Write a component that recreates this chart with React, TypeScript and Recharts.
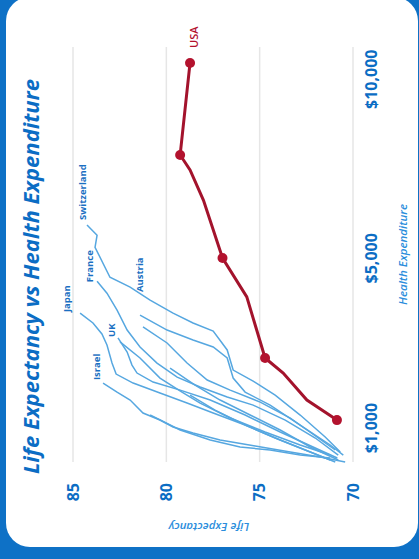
import React from 'react';
import { LineChart, Line, XAxis, YAxis, CartesianGrid, Label } from 'recharts';

// ---- data (health expenditure per capita in $, life expectancy in years) ----
const expenditureTicks = [1000, 5000, 10000];
const lifeTicks = [70, 75, 80, 85];

const usaExp = [1160, 1581, 2178, 2524, 4010, 5008, 6553, 7394, 7815, 10480];
const usaLife = [70.86, 72.47, 73.74, 74.71, 75.69, 76.99, 78.01, 78.73, 79.26, 78.73];
const usaMarkedPoints = [0, 3, 5, 8, 9];

const switzerlandExp = [5882, 5610, 5290, 4508, 4254, 3928, 3605, 3361, 3165, 2713, 2246, 1998, 1688, 1264, 825, 545];
const switzerlandLife = [84.25, 83.71, 83.82, 83.02, 81.94, 80.87, 79.64, 78.57, 77.49, 76.74, 76.42, 75.35, 74.17, 72.83, 71.49, 70.68];

const austriaExp = [3556, 3189, 2951, 2783, 2524, 2065, 1753, 1472, 1060, 673, 491];
const austriaLife = [81.41, 79.96, 78.57, 77.49, 76.74, 76.42, 75.78, 74.44, 72.83, 71.22, 70.52];

const franceExp = [4407, 4102, 3679, 3189, 2783, 2407, 2087, 1864, 1645, 1472, 1161, 805, 491];
const franceLife = [83.71, 83.18, 82.64, 82.1, 81.41, 80.5, 79.42, 78.19, 76.74, 75.35, 73.63, 72.02, 70.79];

const japanExp = [3605, 3361, 3094, 2830, 2407, 2155, 1953, 1732, 1516, 1306, 1060, 767, 545, 405];
const japanLife = [84.62, 83.93, 83.45, 83.18, 82.91, 82.69, 81.78, 80.34, 78.89, 77.49, 75.78, 73.9, 72.29, 71.22];

const ukExp = [2999, 2665, 2360, 2178, 1975, 1797, 1581, 1264, 922, 618, 440];
const ukLife = [82.59, 82.1, 81.84, 81.57, 80.71, 79.26, 77.65, 75.78, 73.9, 72.02, 70.84];

const israelExp = [1953, 1753, 1581, 1306, 1161, 1020, 902, 767, 655, 545, 457, 371];
const israelLife = [83.39, 82.64, 81.94, 81.25, 80.34, 79.64, 78.57, 77.12, 75.24, 73.36, 71.76, 70.42];

const otherAExp = [3263, 2878, 2407, 2020, 1797, 1537, 1202, 805, 581];
const otherALife = [81.25, 79.96, 78.89, 77.81, 76.58, 74.97, 73.36, 71.86, 70.95];

const otherBExp = [2903, 2524, 2065, 1753, 1516, 1202, 922, 673, 491];
const otherBLife = [82.48, 81.41, 80.34, 79.16, 78.19, 76.58, 74.71, 72.83, 71.22];

const otherCExp = [2292, 1908, 1581, 1264, 961, 636, 405];
const otherCLife = [79.8, 78.46, 77.12, 75.51, 73.9, 72.29, 70.79];

const otherDExp = [1688, 1368, 1060, 805, 581, 371];
const otherDLife = [78.73, 77.39, 75.78, 74.17, 72.56, 70.95];

const otherEExp = [1264, 961, 767, 636, 581, 491, 440];
const otherELife = [80.87, 79.26, 77.65, 76.05, 74.44, 72.83, 71.22];

// ---- helpers ----
const rows = (exp: number[], life: number[]) => exp.map((e, i) => ({ exp: e, le: life[i] }));

// power scale (exponent < 1) for the expenditure axis
function powScale(k: number, d: number[] = [0, 1], r: number[] = [0, 1]): any {
  let dom = d.slice();
  let rng = r.slice();
  const tf = (v: number) => Math.sign(v) * Math.pow(Math.abs(v), k);
  const itf = (v: number) => Math.sign(v) * Math.pow(Math.abs(v), 1 / k);
  const s: any = (v: number) => {
    const a = tf(dom[0]);
    const b = tf(dom[dom.length - 1]);
    const r0 = rng[0];
    const r1 = rng[rng.length - 1];
    if (b === a) return (r0 + r1) / 2;
    return r0 + ((tf(Number(v)) - a) / (b - a)) * (r1 - r0);
  };
  s.domain = (x?: any) => {
    if (x === undefined) return dom.slice();
    dom = Array.from(x, Number);
    return s;
  };
  s.range = (x?: any) => {
    if (x === undefined) return rng.slice();
    rng = Array.from(x, Number);
    return s;
  };
  s.copy = () => powScale(k, dom, rng);
  s.invert = (y: number) => {
    const a = tf(dom[0]);
    const b = tf(dom[dom.length - 1]);
    const r0 = rng[0];
    const r1 = rng[rng.length - 1];
    return itf(a + ((y - r0) / (r1 - r0)) * (b - a));
  };
  s.ticks = (n = 10) => {
    const lo = dom[0];
    const hi = dom[dom.length - 1];
    const step = Math.pow(10, Math.floor(Math.log10((hi - lo) / n)));
    const out: number[] = [];
    for (let v = Math.ceil(lo / step) * step; v <= hi; v += step) out.push(v);
    return out;
  };
  s.tickFormat = () => (v: number) => String(v);
  s.nice = () => s;
  s.clamp = (c?: any) => (c === undefined ? false : s);
  return s;
}

const xScale = powScale(0.83);

const BLUE = '#0b6dc4';
const LINE_BLUE = '#56a7e0';
const RED = '#a3132c';

const countries = [
  { name: 'Switzerland', exp: switzerlandExp, life: switzerlandLife, labeled: true },
  { name: 'Austria', exp: austriaExp, life: austriaLife, labeled: true },
  { name: 'France', exp: franceExp, life: franceLife, labeled: true },
  { name: 'Japan', exp: japanExp, life: japanLife, labeled: true },
  { name: 'UK', exp: ukExp, life: ukLife, labeled: true },
  { name: 'Israel', exp: israelExp, life: israelLife, labeled: true },
  { name: 'otherA', exp: otherAExp, life: otherALife, labeled: false },
  { name: 'otherB', exp: otherBExp, life: otherBLife, labeled: false },
  { name: 'otherC', exp: otherCExp, life: otherCLife, labeled: false },
  { name: 'otherD', exp: otherDExp, life: otherDLife, labeled: false },
  { name: 'otherE', exp: otherEExp, life: otherELife, labeled: false },
];

// label offsets (px) relative to each line's first point
const labelOffset: Record<string, [number, number]> = {
  Switzerland: [5, -5],
  France: [-1, -8],
  Japan: [1, -14],
  Austria: [23, -1],
  UK: [1, -6],
  Israel: [3, -7],
};

const fmtMoney = (v: number) => '$' + v.toLocaleString('en-US');

export default function App() {
  const usaRows = rows(usaExp, usaLife);
  return (
    <div style={{ position: 'fixed', left: 0, top: 0, width: 419, height: 559, background: '#0e71c6', overflow: 'hidden' }}>
      <div style={{ position: 'absolute', left: 6, top: -3, width: 412, height: 550, background: '#ffffff', borderRadius: 24 }} />
      <div
        style={{
          position: 'absolute',
          left: 0,
          top: 0,
          width: 559,
          height: 419,
          transformOrigin: '0 0',
          transform: 'rotate(-90deg) translateX(-559px)',
        }}
      >
        <div
          style={{
            position: 'absolute',
            left: 3,
            top: 15,
            width: 559,
            textAlign: 'center',
            fontFamily: '"Open Sans", sans-serif',
            fontWeight: 700,
            fontStyle: 'italic',
            fontSize: 22,
            lineHeight: '30px',
            color: BLUE,
            whiteSpace: 'nowrap',
          }}
        >
          Life Expectancy vs Health Expenditure
        </div>
        <LineChart width={559} height={419} margin={{ top: 73, right: 47, bottom: 0, left: 0 }}>
          <CartesianGrid vertical={false} stroke="#e6e6e6" strokeWidth={1.5} />
          <XAxis
            type="number"
            dataKey="exp"
            scale={xScale}
            domain={[371, 10955]}
            ticks={expenditureTicks}
            tickFormatter={fmtMoney}
            axisLine={false}
            tickLine={false}
            tickSize={0}
            tickMargin={13}
            height={66}
            tick={{ fill: BLUE, fontSize: 16, fontWeight: 700, fontFamily: '"Open Sans", sans-serif' }}
          >
            <Label
              value="Health Expenditure"
              position="insideBottom"
              offset={12}
              style={{ fill: '#2a8ddc', fontSize: 11.5, fontStyle: 'italic', fontWeight: 600, fontFamily: '"Open Sans", sans-serif' }}
            />
          </XAxis>
          <YAxis
            type="number"
            dataKey="le"
            domain={[70, 85]}
            ticks={lifeTicks}
            axisLine={false}
            tickLine={false}
            tickSize={0}
            tickMargin={21}
            width={97}
            tick={{ fill: BLUE, fontSize: 16, fontWeight: 700, fontFamily: '"Open Sans", sans-serif' }}
          >
            <Label
              content={(p: any) => {
                const vb = p.viewBox || { x: 0, y: 73, width: 97, height: 280 };
                const cx = vb.x + 32;
                const cy = vb.y + vb.height / 2 - 4;
                return (
                  <text
                    x={cx}
                    y={cy}
                    transform={`rotate(-90 ${cx} ${cy})`}
                    textAnchor="middle"
                    dominantBaseline="central"
                    fill="#2a8ddc"
                    fontSize={11.5}
                    fontStyle="italic"
                    fontWeight={600}
                    fontFamily='"Open Sans", sans-serif'
                  >
                    Life Expectancy
                  </text>
                );
              }}
            />
          </YAxis>
          {countries.map((c) => (
            <Line
              key={c.name}
              data={rows(c.exp, c.life)}
              dataKey="le"
              type="linear"
              stroke={LINE_BLUE}
              strokeWidth={1.5}
              isAnimationActive={false}
              dot={(p: any) => {
                if (c.labeled && p.index === 0) {
                  const off = labelOffset[c.name] || [0, 0];
                  return (
                    <text
                      key={`lbl-${c.name}`}
                      x={p.cx + off[0]}
                      y={p.cy + off[1]}
                      dominantBaseline="central"
                      fill="#1a6fc2"
                      fontSize={9.5}
                      fontWeight={700}
                      fontFamily='"Open Sans", sans-serif'
                    >
                      {c.name}
                    </text>
                  );
                }
                return <g key={`d-${c.name}-${p.index}`} />;
              }}
              activeDot={false}
            />
          ))}
          <Line
            data={usaRows}
            dataKey="le"
            type="linear"
            stroke={RED}
            strokeWidth={3}
            isAnimationActive={false}
            activeDot={false}
            dot={(p: any) => {
              const els: any[] = [];
              if (usaMarkedPoints.includes(p.index)) {
                els.push(<circle key="c" cx={p.cx} cy={p.cy} r={5} fill="#b3122e" />);
              }
              if (p.index === usaRows.length - 1) {
                els.push(
                  <text
                    key="t"
                    x={p.cx + 15}
                    y={p.cy + 3}
                    dominantBaseline="central"
                    fill="#b3122e"
                    fontSize={11}
                    fontWeight={600}
                    fontFamily='"Open Sans", sans-serif'
                  >
                    USA
                  </text>
                );
              }
              return <g key={`u-${p.index}`}>{els}</g>;
            }}
          />
        </LineChart>
      </div>
    </div>
  );
}
